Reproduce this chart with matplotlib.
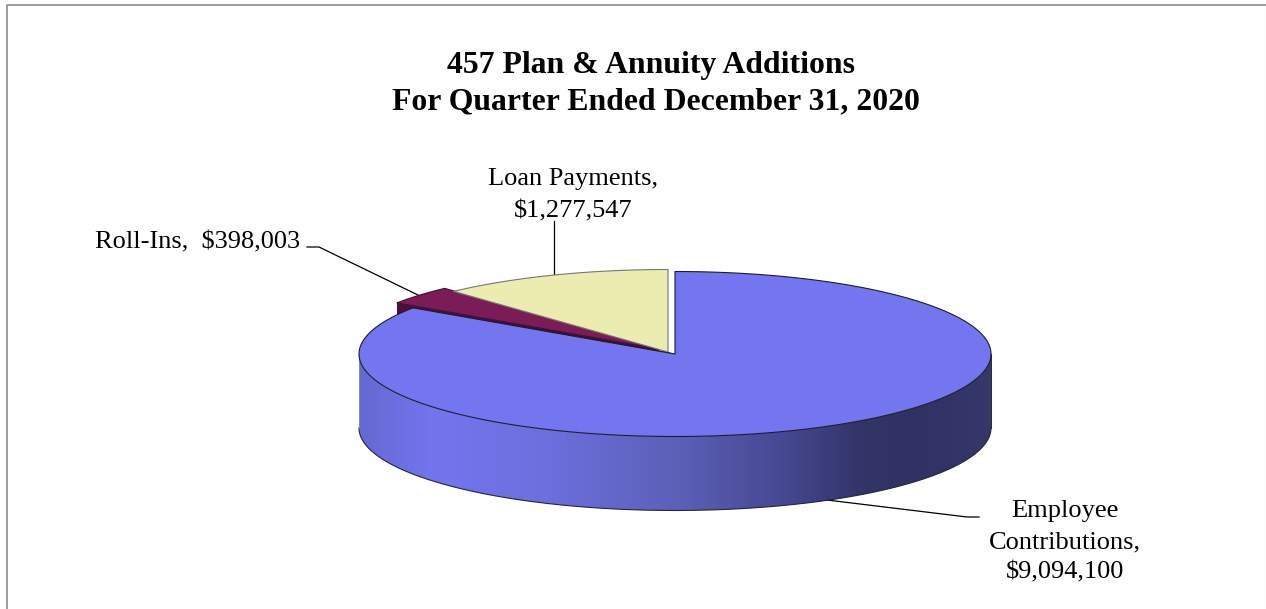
import numpy as np
import matplotlib
matplotlib.use('Agg')
import matplotlib.pyplot as plt
from matplotlib.colors import LinearSegmentedColormap
from matplotlib.patches import Polygon

categories = ['Employee Contributions', 'Roll-Ins', 'Loan Payments']
values = [9094100, 398003, 1277547]

title_lines = ['457 Plan & Annuity Additions', 'For Quarter Ended December 31, 2020']

# pie shape, in pixels
RX, RY = 316, 82.5
DEPTH = 74
CENTERS = [(675, 354), (659, 349), (668, 352)]
TOP_COLORS = ['#7376ee', '#7b1c58', '#ececb0']
WALL_DARK = '#4a0f3f'
EDGE = '#1c1c2c'

plt.rcParams['font.family'] = ['Liberation Serif', 'DejaVu Serif']

fig = plt.figure(figsize=(12.66, 6.09), dpi=100)
ax = fig.add_axes([0, 0, 1, 1])
ax.set_axis_off()


def rim(cx, cy, t0, t1, n=200):
    # angles run clockwise from 12 o'clock, flattened into an ellipse
    t = np.radians(np.linspace(t0, t1, n))
    return np.column_stack([cx + RX * np.sin(t), cy - RY * np.cos(t)])


def slice_top(cx, cy, t0, t1, color, edge):
    pts = np.vstack([[cx, cy], rim(cx, cy, t0, t1)])
    ax.add_patch(Polygon(pts, closed=True, fc=color, ec=edge, lw=0.8, joinstyle='round', zorder=3))


sweep = np.cumsum([0] + values) / sum(values) * 360

# outer frame
ax.plot([6.5, 6.5, 1266], [609, 5, 5], color='#808080', lw=1.1, zorder=1)
ax.plot([1265.5, 1265.5], [5, 609], color='#e6e6e6', lw=0.8, zorder=1)

# maroon slice sits behind the big one, only a thin dark strip of its cut face shows
cx, cy = CENTERS[1]
p = rim(cx, cy, sweep[1], sweep[1], 1)[0]
ax.add_patch(Polygon([[cx, cy], p, p + [0, DEPTH], [cx, cy + DEPTH]], closed=True,
                     fc=WALL_DARK, ec='none', zorder=2))
ax.add_patch(Polygon([[CENTERS[0][0], CENTERS[0][1]], p, [cx + 9, cy + 3]], closed=True,
                     fc='#2a0a28', ec='none', zorder=2))
slice_top(cx, cy, sweep[1], sweep[2], TOP_COLORS[1], '#3a1030')

cx, cy = CENTERS[2]
slice_top(cx, cy, sweep[2], sweep[3], TOP_COLORS[2], '#777777')

# front wall of the big slice with its horizontal shading
cx, cy = CENTERS[0]
upper = rim(cx, cy, 90, 270)
lower = rim(cx, cy + DEPTH, 270, 90)
wall = np.vstack([upper, lower])
shade = LinearSegmentedColormap.from_list('wall', [
    (0.0, '#6569d2'), (0.12, '#7376ee'), (0.3, '#6c6fdc'), (0.5, '#5c60b8'),
    (0.68, '#45478f'), (0.8, '#323367'), (0.88, '#303164'), (1.0, '#363869')])
im = ax.imshow(np.linspace(0, 1, 632).reshape(1, -1), cmap=shade, aspect='auto',
               extent=[cx - RX, cx + RX, cy + RY + DEPTH, cy - RY], zorder=4)
clip = Polygon(wall, closed=True, transform=ax.transData)
im.set_clip_path(clip)
ax.plot(lower[:, 0], lower[:, 1], color='#26263a', lw=0.8, zorder=5)
ax.plot([cx - RX, cx - RX], [cy, cy + DEPTH], color='#8a8a9a', lw=0.7, zorder=5)
ax.plot([cx + RX, cx + RX], [cy, cy + DEPTH], color='#26263a', lw=0.7, zorder=5)
slice_top(cx, cy, sweep[0], sweep[1], TOP_COLORS[0], EDGE)
ax.patches[-1].set_zorder(5)

# leader lines
ax.plot([307, 319, 420], [247, 247, 296], color='black', lw=0.9, zorder=2)
ax.plot([554, 554], [221, 275.5], color='black', lw=0.9, zorder=2)
ax.plot([827, 967, 979], [500, 517, 517], color='black', lw=0.9, zorder=2)

ax.set_xlim(0, 1266)
ax.set_ylim(609, 0)

# title
TITLE_SIZE = 22.9
ax.text(651, 73, title_lines[0], ha='center', va='baseline', fontsize=TITLE_SIZE, fontweight='bold')
ax.text(656, 109.5, title_lines[1], ha='center', va='baseline', fontsize=TITLE_SIZE, fontweight='bold')

# labels
money = [f'${v:,}' for v in values]
LABEL_SIZE = 19
ax.text(95, 248, f'{categories[1]},  {money[1]}', ha='left', va='baseline', fontsize=LABEL_SIZE)
ax.text(573, 185, f'{categories[2]},', ha='center', va='baseline', fontsize=LABEL_SIZE)
ax.text(573, 217, money[2], ha='center', va='baseline', fontsize=LABEL_SIZE)
first, second = categories[0].split()
ax.text(1065, 517, first, ha='center', va='baseline', fontsize=LABEL_SIZE)
ax.text(1065, 548, f'{second},', ha='center', va='baseline', fontsize=LABEL_SIZE)
ax.text(1065, 578, money[0], ha='center', va='baseline', fontsize=LABEL_SIZE)

fig.savefig('out.png', dpi=100)
